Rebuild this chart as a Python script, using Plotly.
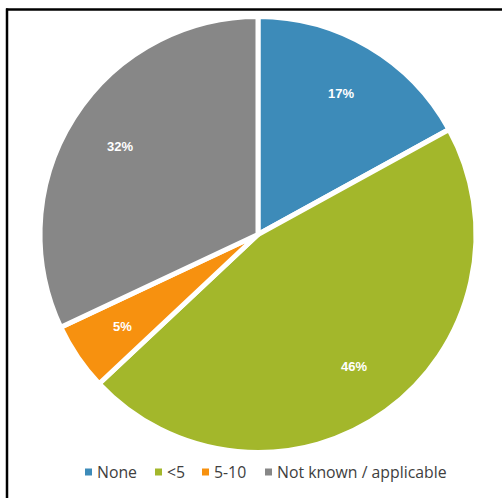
import math
import plotly.graph_objects as go

categories = ["None", "<5", "5-10", "Not known / applicable"]
values = [17, 46, 5, 32]
colors = ["#3D8BB9", "#A3B72B", "#F7910F", "#878787"]

W, H = 502, 498

# pie placement (pixels)
PX0, PX1, PY0, PY1 = 40, 476, 16, 453
cx_px, cy_px = (PX0 + PX1) / 2, (PY0 + PY1) / 2
R_px = min(PX1 - PX0, PY1 - PY0) / 2
LABEL_R = 0.75

fig = go.Figure(go.Pie(
    labels=categories,
    values=values,
    sort=False,
    direction="clockwise",
    rotation=0,
    marker=dict(colors=colors, line=dict(color="white", width=5)),
    textinfo="none",
    hoverinfo="label+percent",
    showlegend=False,
    domain=dict(x=[PX0 / W, PX1 / W], y=[1 - PY1 / H, 1 - PY0 / H]),
))

# percentage labels, placed along each slice's mid-angle
total = sum(values)
annotations = []
cum = 0
for v in values:
    mid = (cum + v / 2) / total * 2 * math.pi
    cum += v
    x = cx_px + LABEL_R * R_px * math.sin(mid)
    y = cy_px - LABEL_R * R_px * math.cos(mid)
    annotations.append(dict(
        x=x / W, y=1 - y / H, xref="paper", yref="paper",
        text="<b>%d%%</b>" % round(100 * v / total), showarrow=False,
        font=dict(color="white", size=13, family="Liberation Sans"),
        xanchor="center", yanchor="middle",
    ))

# legend built from the categories
legend_x = [85, 155, 202, 265]
legend_y = 472
shapes = []
for cat, col, lx in zip(categories, colors, legend_x):
    shapes.append(dict(type="rect", xref="paper", yref="paper",
                       x0=lx / W, x1=(lx + 7) / W,
                       y0=1 - (legend_y + 3.5) / H, y1=1 - (legend_y - 3.5) / H,
                       fillcolor=col, line=dict(width=0)))
    annotations.append(dict(
        x=(lx + 10) / W, y=1 - legend_y / H, xref="paper", yref="paper",
        text=cat, showarrow=False, xanchor="left", yanchor="middle",
        font=dict(size=15.8, color="#404040", family="Open Sans"),
    ))

# frame lines (top and left)
shapes += [
    dict(type="line", xref="paper", yref="paper",
         x0=6 / W, x1=1, y0=1 - 9.5 / H, y1=1 - 9.5 / H,
         line=dict(color="black", width=2.5)),
    dict(type="line", xref="paper", yref="paper",
         x0=7 / W, x1=7 / W, y0=0, y1=1 - 8.5 / H,
         line=dict(color="black", width=2.5)),
]

fig.update_layout(
    width=W, height=H,
    margin=dict(l=0, r=0, t=0, b=0),
    paper_bgcolor="white",
    plot_bgcolor="white",
    showlegend=False,
    annotations=annotations,
    shapes=shapes,
)

fig.write_html(
    "out.html",
    config={"displayModeBar": False},
    post_script="document.body.style.margin='0';document.body.style.overflow='hidden';",
)
